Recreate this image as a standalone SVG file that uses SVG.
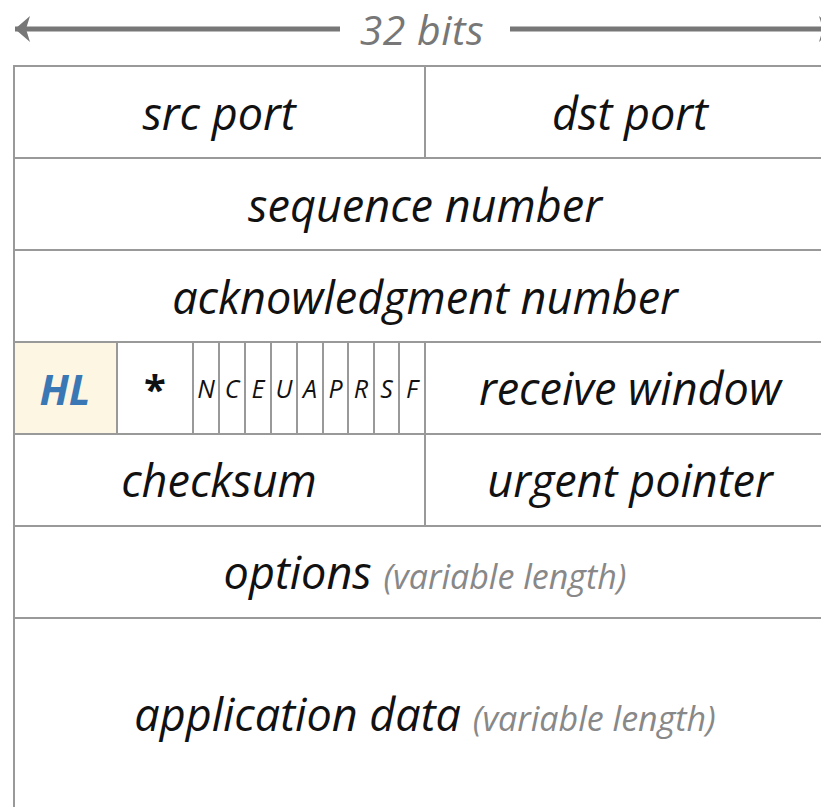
<svg xmlns="http://www.w3.org/2000/svg" width="821" height="807" viewBox="0 0 821 807">
<style>
.t{font-family:"Open Sans","Noto Sans",sans-serif;font-style:italic;font-size:45px;fill:#111;text-anchor:middle}
.g{fill:#888;font-size:34px}
.f{font-size:25px}
.cell{fill:none;stroke:#999;stroke-width:2}
.ln{stroke:#999;stroke-width:2}
</style>
<defs>
<marker id="ah" markerWidth="16" markerHeight="26" refX="15" refY="13" orient="auto-start-reverse" markerUnits="userSpaceOnUse" overflow="visible">
<path d="M0,0 L15,13 L0,26 L4,13 Z" fill="#777"/>
</marker>
</defs>
<g id="width-arrow">
<line x1="15" y1="29" x2="340" y2="29" stroke="#777" stroke-width="5" marker-start="url(#ah)"/>
<line x1="510" y1="29" x2="834" y2="29" stroke="#777" stroke-width="5" marker-end="url(#ah)"/>
<text class="t" x="422" y="45" style="fill:#777;font-size:41px;letter-spacing:0.5px">32 bits</text>
</g>
<g id="table">
<rect id="hl-bg" x="14" y="343" width="103" height="91" fill="#fdf6e3"/>
<rect class="cell" x="14" y="66" width="822" height="760"/>
<line class="ln" x1="14" y1="158" x2="836" y2="158"/>
<line class="ln" x1="14" y1="250" x2="836" y2="250"/>
<line class="ln" x1="14" y1="342" x2="836" y2="342"/>
<line class="ln" x1="14" y1="434" x2="836" y2="434"/>
<line class="ln" x1="14" y1="526" x2="836" y2="526"/>
<line class="ln" x1="14" y1="618" x2="836" y2="618"/>
<line class="ln" x1="425" y1="66" x2="425" y2="158"/>
<line class="ln" x1="425" y1="342" x2="425" y2="526"/>
<line class="ln" x1="117" y1="342" x2="117" y2="434"/>
<line class="ln" x1="193" y1="342" x2="193" y2="434"/>
<line class="ln" x1="219" y1="342" x2="219" y2="434"/>
<line class="ln" x1="245" y1="342" x2="245" y2="434"/>
<line class="ln" x1="271" y1="342" x2="271" y2="434"/>
<line class="ln" x1="297" y1="342" x2="297" y2="434"/>
<line class="ln" x1="323" y1="342" x2="323" y2="434"/>
<line class="ln" x1="348" y1="342" x2="348" y2="434"/>
<line class="ln" x1="374" y1="342" x2="374" y2="434"/>
<line class="ln" x1="399" y1="342" x2="399" y2="434"/>
</g>
<g id="src-port"><text class="t" x="219" y="130">src port</text></g>
<g id="dst-port"><text class="t" x="630" y="130">dst port</text></g>
<g id="seq"><text class="t" x="425" y="222">sequence number</text></g>
<g id="ack"><text class="t" x="425" y="314">acknowledgment number</text></g>
<g id="hl"><text class="t" x="65" y="405" style="fill:#3a78b5;font-weight:bold;font-size:42px">HL</text></g>
<g id="reserved"><text class="t" x="155" y="404" style="font-weight:bold;font-style:normal;font-size:40px">*</text></g>
<g id="flags">
<text class="t f" x="206" y="398">N</text>
<text class="t f" x="232" y="398">C</text>
<text class="t f" x="258" y="398">E</text>
<text class="t f" x="284" y="398">U</text>
<text class="t f" x="310" y="398">A</text>
<text class="t f" x="335.5" y="398">P</text>
<text class="t f" x="361" y="398">R</text>
<text class="t f" x="386.5" y="398">S</text>
<text class="t f" x="412" y="398">F</text>
</g>
<g id="rwnd"><text class="t" x="630" y="405">receive window</text></g>
<g id="checksum"><text class="t" x="219" y="497">checksum</text></g>
<g id="urg"><text class="t" x="630" y="497">urgent pointer</text></g>
<g id="options"><text class="t" x="425" y="589">options <tspan class="g">(variable length)</tspan></text></g>
<g id="data"><text class="t" x="425" y="731">application data <tspan class="g">(variable length)</tspan></text></g>
</svg>
